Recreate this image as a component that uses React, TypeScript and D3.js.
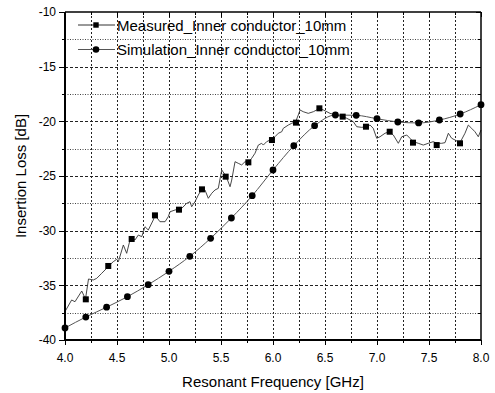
import React from "react";
import * as d3 from "d3";

const xTicks = [4.0, 4.5, 5.0, 5.5, 6.0, 6.5, 7.0, 7.5, 8.0];
const yTicks = [-40, -35, -30, -25, -20, -15, -10];
const xMinor = [4.25, 4.75, 5.25, 5.75, 6.25, 6.75, 7.25, 7.75];
const yMinor = [-37.5, -32.5, -27.5, -22.5, -17.5, -12.5];

const simFreq = [4.0, 4.2, 4.4, 4.6, 4.8, 5.0, 5.2, 5.4, 5.6, 5.8, 6.0, 6.2, 6.4, 6.6, 6.8, 7.0, 7.2, 7.4, 7.6, 7.8, 8.0];
const simDb = [-38.9, -37.9, -37.0, -36.04, -34.94, -33.72, -32.35, -30.7, -28.84, -26.8, -24.45, -22.23, -20.4, -19.42, -19.45, -19.76, -20.06, -20.15, -19.88, -19.33, -18.48];

const measFreq = [4.0, 4.064, 4.096, 4.161, 4.197, 4.226, 4.272, 4.305, 4.353, 4.401, 4.42, 4.464, 4.497, 4.513, 4.561, 4.593, 4.625, 4.641, 4.673, 4.705, 4.738, 4.769, 4.801, 4.849, 4.865, 4.913, 4.962, 4.993, 5.01, 5.058, 5.089, 5.122, 5.17, 5.202, 5.218, 5.25, 5.282, 5.314, 5.346, 5.378, 5.411, 5.442, 5.474, 5.507, 5.548, 5.587, 5.603, 5.635, 5.666, 5.699, 5.731, 5.763, 5.795, 5.827, 5.859, 5.891, 5.907, 5.939, 5.988, 6.019, 6.051, 6.084, 6.099, 6.147, 6.18, 6.218, 6.243, 6.26, 6.291, 6.339, 6.388, 6.42, 6.445, 6.484, 6.548, 6.67, 6.709, 6.772, 6.805, 6.853, 6.901, 6.933, 6.964, 6.997, 7.029, 7.077, 7.118, 7.157, 7.205, 7.238, 7.286, 7.317, 7.349, 7.397, 7.445, 7.493, 7.541, 7.574, 7.622, 7.654, 7.686, 7.718, 7.75, 7.798, 7.846, 7.878, 7.91, 7.942, 7.974, 8.0];
const measDb = [-37.4, -36.34, -36.5, -35.52, -36.25, -34.42, -34.51, -34.36, -33.9, -33.44, -33.23, -32.84, -32.62, -32.84, -31.31, -32.07, -30.85, -30.7, -30.85, -30.4, -30.55, -29.64, -29.94, -29.02, -28.57, -29.18, -29.18, -28.72, -28.27, -28.11, -28.05, -27.96, -27.5, -27.35, -27.81, -27.35, -26.74, -26.22, -26.28, -27.04, -26.58, -26.28, -26.13, -24.45, -25.0, -25.98, -25.37, -23.69, -23.84, -23.99, -23.69, -23.75, -23.38, -22.92, -22.17, -22.01, -22.17, -21.86, -21.64, -21.41, -21.09, -20.95, -20.64, -20.34, -20.18, -20.03, -19.42, -18.96, -19.12, -19.27, -19.12, -18.96, -18.81, -18.96, -19.27, -19.58, -19.72, -20.03, -20.49, -20.55, -20.49, -20.34, -20.64, -21.55, -21.41, -21.09, -20.95, -21.25, -22.01, -21.41, -21.25, -21.55, -21.86, -22.01, -22.17, -22.01, -21.86, -22.01, -22.01, -21.95, -21.09, -21.55, -21.71, -21.95, -21.09, -20.34, -20.64, -20.95, -21.41, -20.79];

const measMarkFreq = [4.2, 4.416, 4.641, 4.865, 5.096, 5.317, 5.545, 5.763, 5.99, 6.221, 6.446, 6.67, 6.894, 7.122, 7.346, 7.574, 7.798];
const measMarkDb = [-36.28, -33.23, -30.76, -28.6, -28.08, -26.22, -25.06, -23.75, -21.71, -20.12, -18.81, -19.57, -20.49, -20.95, -21.95, -22.17, -22.01];

const legendLabels = ["Measured_Inner conductor_10mm", "Simulation_Inner conductor_10mm"];

const W = 495, H = 393;
const L = 65, R = 481, T = 12, B = 340;
const FONT = "Liberation Sans, Arial, sans-serif";

const crisp = (v: number) => Math.round(v) + 0.5;

export default function App() {
  const x = d3.scaleLinear().domain([4, 8]).range([L, R]);
  const y = d3.scaleLinear().domain([-40, -10]).range([B, T]);

  const measLine = d3.line<number>().x((_, i) => x(measFreq[i])).y((d) => y(d));
  const simLine = d3.line<number>().x((_, i) => x(simFreq[i])).y((d) => y(d)).curve(d3.curveMonotoneX);

  const sq = 6;
  const cr = 3.4;

  return (
    <svg width={W} height={H} style={{ position: "fixed", left: 0, top: 0, background: "#fff" }} fontFamily={FONT}>
      <rect x={0} y={0} width={W} height={H} fill="#fff" />
      {/* grid */}
      {[...xTicks.slice(1, -1), ...xMinor].map((v) => (
        <line key={"gx" + v} x1={crisp(x(v))} x2={crisp(x(v))} y1={T} y2={B} stroke="#222" strokeWidth={1} strokeDasharray="2,2" />
      ))}
      {yTicks.slice(1, -1).map((v) => (
        <line key={"gy" + v} x1={L} x2={R} y1={crisp(y(v))} y2={crisp(y(v))} stroke="#222" strokeWidth={1} strokeDasharray="3,2" />
      ))}
      {yMinor.map((v) => (
        <line key={"gym" + v} x1={L} x2={R} y1={crisp(y(v))} y2={crisp(y(v))} stroke="#444" strokeWidth={1} strokeDasharray="1,1.5" />
      ))}

      {/* data lines */}
      <path d={simLine(simDb) || ""} fill="none" stroke="#555" strokeWidth={1} />
      <path d={measLine(measDb) || ""} fill="none" stroke="#333" strokeWidth={0.9} />

      {simFreq.map((f, i) => (
        <circle key={"c" + i} cx={x(f)} cy={y(simDb[i])} r={cr} fill="#000" />
      ))}
      {measMarkFreq.map((f, i) => (
        <rect key={"s" + i} x={x(f) - sq / 2} y={y(measMarkDb[i]) - sq / 2} width={sq} height={sq} fill="#000" />
      ))}

      {/* frame */}
      <line x1={L} x2={R} y1={T} y2={T} stroke="#000" strokeWidth={1.5} />
      <line x1={R} x2={R} y1={T} y2={B} stroke="#000" strokeWidth={1.5} />
      <line x1={L} x2={L} y1={T} y2={B} stroke="#000" strokeWidth={2} />
      <line x1={L} x2={R} y1={B} y2={B} stroke="#000" strokeWidth={2} />

      {/* ticks */}
      {xTicks.map((v) => (
        <g key={"xt" + v}>
          <line x1={crisp(x(v))} x2={crisp(x(v))} y1={B} y2={B + 5} stroke="#000" strokeWidth={1} />
          <line x1={crisp(x(v))} x2={crisp(x(v))} y1={T} y2={T + 5} stroke="#000" strokeWidth={1} />
          <text x={x(v)} y={362} fontSize={12} textAnchor="middle" fill="#000">{v.toFixed(1)}</text>
        </g>
      ))}
      {xMinor.map((v) => (
        <g key={"xm" + v}>
          <line x1={crisp(x(v))} x2={crisp(x(v))} y1={B} y2={B + 3} stroke="#000" strokeWidth={1} />
          <line x1={crisp(x(v))} x2={crisp(x(v))} y1={T} y2={T + 3} stroke="#000" strokeWidth={1} />
        </g>
      ))}
      {yTicks.map((v) => (
        <g key={"yt" + v}>
          <line x1={L - 6} x2={L} y1={crisp(y(v))} y2={crisp(y(v))} stroke="#000" strokeWidth={1} />
          <line x1={R - 5} x2={R} y1={crisp(y(v))} y2={crisp(y(v))} stroke="#000" strokeWidth={1} />
          <text x={56} y={y(v) + 4.3} fontSize={12} textAnchor="end" fill="#000">{v}</text>
        </g>
      ))}
      {yMinor.map((v) => (
        <g key={"ym" + v}>
          <line x1={L - 3} x2={L} y1={crisp(y(v))} y2={crisp(y(v))} stroke="#000" strokeWidth={1} />
          <line x1={R - 3} x2={R} y1={crisp(y(v))} y2={crisp(y(v))} stroke="#000" strokeWidth={1} />
        </g>
      ))}

      {/* axis titles */}
      <text x={(L + R) / 2} y={387} fontSize={15} textAnchor="middle" fill="#000">Resonant Frequency [GHz]</text>
      <text transform={`translate(26,${(T + B) / 2}) rotate(-90)`} fontSize={15} textAnchor="middle" fill="#000">Insertion Loss [dB]</text>

      {/* legend */}
      <g>
        <line x1={78} x2={115} y1={25} y2={25} stroke="#333" strokeWidth={1} />
        <rect x={96 - 2.7} y={25 - 2.7} width={5.4} height={5.4} fill="#000" />
        <text x={117} y={30.5} fontSize={15} fill="#000">{legendLabels[0]}</text>
        <line x1={78} x2={115} y1={49.5} y2={49.5} stroke="#555" strokeWidth={1} />
        <circle cx={96} cy={49.5} r={3.3} fill="#000" />
        <text x={117} y={55} fontSize={15} fill="#000">{legendLabels[1]}</text>
      </g>
    </svg>
  );
}
